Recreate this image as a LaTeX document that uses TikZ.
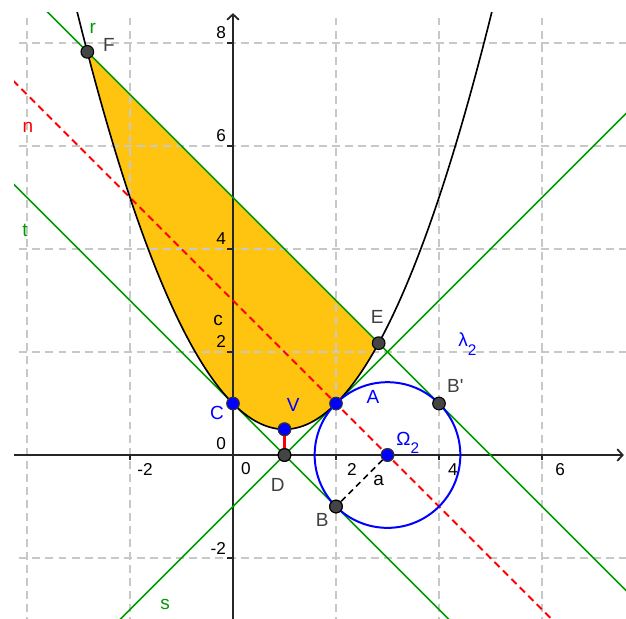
\documentclass[tikz,border=0pt]{standalone}
\usepackage{fontspec}
\setmainfont{Liberation Sans}
\usetikzlibrary{arrows.meta}
\definecolor{ggreen}{RGB}{0,153,0}
\definecolor{gfill}{RGB}{255,196,15}
\definecolor{ggrid}{RGB}{200,200,200}
\definecolor{gpt}{RGB}{68,68,68}
\definecolor{glab}{RGB}{64,64,64}
\definecolor{gred}{RGB}{255,0,0}
\definecolor{gblue}{RGB}{0,0,255}
\tikzset{
  gridline/.style={ggrid, line width=1.1pt, dash pattern=on 4.4pt off 2.8pt},
  axisline/.style={black!85, line width=1.1pt, -{Straight Barb[length=3pt,width=6.5pt,line width=1pt]}},
  tickline/.style={black!85, line width=1pt},
  ticklab/.style={font=\fontsize{9.5}{10}\selectfont, inner sep=0pt},
  greenline/.style={ggreen, line width=0.9pt},
  redline/.style={gred, line width=1pt, dash pattern=on 4pt off 2.6pt},
  curveline/.style={black, line width=0.9pt},
  circleline/.style={gblue, line width=1.1pt},
  graypt/.style={circle, fill=gpt, draw=black, line width=0.6pt, minimum size=7pt, inner sep=0pt},
  bluept/.style={circle, fill=gblue, draw=black!80, line width=0.6pt, minimum size=7pt, inner sep=0pt},
  lab/.style={font=\fontsize{10.5}{12}\selectfont, inner sep=0pt},
}
\newcommand{\subtwo}{\raisebox{-0.45em}{\fontsize{8.5}{9}\selectfont 2}}
\begin{document}
\begin{tikzpicture}[x=1cm,y=1cm]
\useasboundingbox (-4.524,-3.165) rectangle (7.631,8.835);
\begin{scope}
\clip (-4.252,-3.165) rectangle (7.631,8.583);
% filled region between parabola and line r
\fill[gfill] (-2.8284,7.8284) -- (2.8284,2.1716)
  -- plot[domain=2.8284:-2.8284, samples=120, smooth] (\x,{0.5*(\x-1)^2+0.5}) -- cycle;
% grid
\foreach \gx in {-4,-2,2,4,6} \draw[gridline] (\gx,-3.3) -- (\gx,8.7);
\foreach \gy in {-2,2,4,6,8} \draw[gridline] (-4.4,\gy) -- (7.8,\gy);
% axes
\coordinate (xa0) at (-4.3,0);
\coordinate (xa1) at (7.59,0);
\coordinate (ya0) at (0,-3.3);
\coordinate (ya1) at (0,8.58);
\draw[axisline] (xa0) -- (xa1);
\draw[axisline] (ya0) -- (ya1);
\foreach \gx in {-2,2,4,6} \draw[tickline] (\gx,0) -- (\gx,-0.1);
\foreach \gy in {-2,2,4,6,8} \draw[tickline] (0,\gy) -- (-0.12,\gy);
% lines
\coordinate (r0) at (-4.6,9.6);
\coordinate (r1) at (8.6,-3.6);
\coordinate (n0) at (-4.6,7.6);
\coordinate (n1) at (6.6,-3.6);
\coordinate (t0) at (-4.6,5.6);
\coordinate (t1) at (4.6,-3.6);
\coordinate (s0) at (-2.6,-3.6);
\coordinate (s1) at (9.8,8.8);
\draw[greenline] (r0) -- (r1);
\draw[greenline] (t0) -- (t1);
\draw[greenline] (s0) -- (s1);
\draw[redline] (n0) -- (n1);
% parabola c
\draw[curveline] plot[domain=-3.3:5.3, samples=160, smooth] (\x,{0.5*(\x-1)^2+0.5});
% circle
\coordinate (Oc) at (3,0);
\draw[circleline] (Oc) circle (1.41421);
\end{scope}
% points
\node[graypt] (F) at (-2.8284,7.8284) {};
\node[graypt] (E) at (2.8284,2.1716) {};
\node[graypt] (Bp) at (4,1) {};
\node[graypt] (B) at (2,-1) {};
\node[graypt] (D) at (1,0) {};
\node[bluept] (C) at (0,1) {};
\node[bluept] (V) at (1,0.5) {};
\node[bluept] (A) at (2,1) {};
\node[bluept] (O) at (3,0) {};
% segments
\draw[gred, line width=1.2pt] (V) -- (D);
\draw[black, line width=0.9pt, dash pattern=on 3.4pt off 2.4pt] (O) -- (B);
% redraw points on top
\node[graypt] at (B) {};
\node[graypt] at (D) {};
\node[bluept] at (V) {};
\node[bluept] at (O) {};
% tick labels
\node[ticklab] at (-1.71,-0.29) {-2};
\node[ticklab] at (0.25,-0.27) {0};
\node[ticklab] at (2.31,-0.29) {2};
\node[ticklab] at (4.27,-0.29) {4};
\node[ticklab] at (6.35,-0.29) {6};
\node[ticklab, anchor=east] at (-0.13,8.21) {8};
\node[ticklab, anchor=east] at (-0.13,6.21) {6};
\node[ticklab, anchor=east] at (-0.13,4.21) {4};
\node[ticklab, anchor=east] at (-0.13,2.21) {2};
\node[ticklab, anchor=east] at (-0.13,0.22) {0};
\node[ticklab, anchor=east] at (-0.13,-1.81) {-2};
% labels
\node[lab, ggreen] (lr) at (-2.72,8.29) {r};
\node[lab, glab] (lF) at (-2.41,7.96) {F};
\node[lab, gred] (ln) at (-3.98,6.37) {n};
\node[lab, ggreen] (lt) at (-4.04,4.37) {t};
\node[lab, ggreen] (ls) at (-1.32,-2.91) {s};
\node[lab, black] (lc) at (-0.29,2.62) {c};
\node[lab, gblue] (lC) at (-0.31,0.82) {C};
\node[lab, gblue] (lV) at (1.17,0.97) {V};
\node[lab, gblue] (lA) at (2.72,1.13) {A};
\node[lab, glab] (lE) at (2.80,2.68) {E};
\node[lab, gblue, anchor=base west] (llam) at (4.37,2.10) {λ\subtwo};
\node[lab, glab, anchor=base west] (lBp) at (4.15,1.22) {B\textquotesingle};
\node[lab, gblue, anchor=base west] (lO) at (3.165,0.19) {Ω\subtwo};
\node[lab, black] (la) at (2.83,-0.49) {a};
\node[lab, glab] (lB) at (1.73,-1.26) {B};
\node[lab, glab] (lD) at (0.87,-0.58) {D};
\end{tikzpicture}
\end{document}
